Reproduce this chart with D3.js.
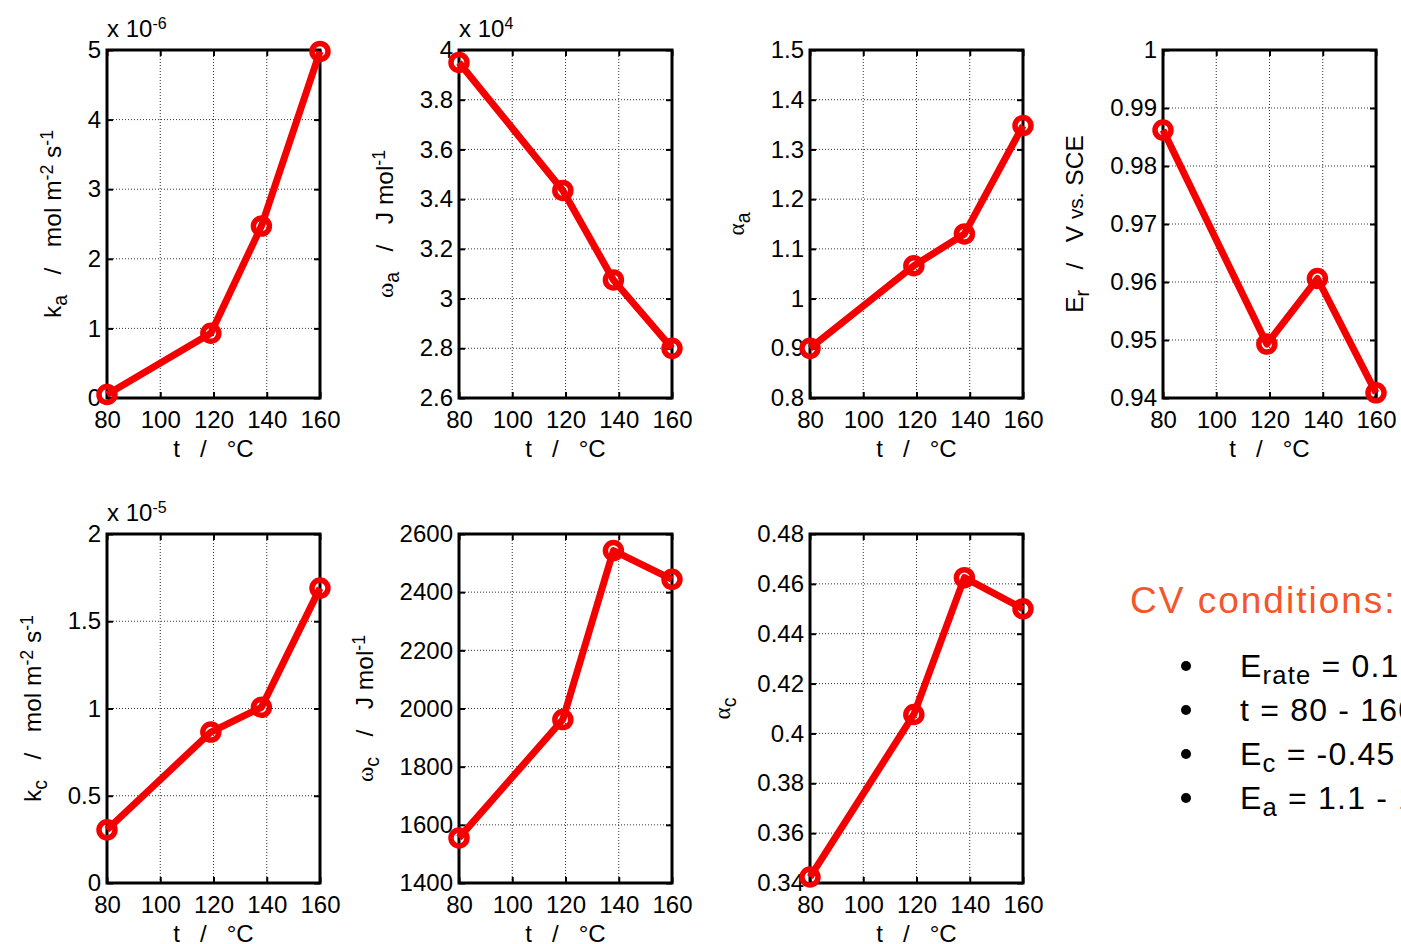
<!DOCTYPE html>
<html>
<head>
<meta charset="utf-8">
<script src="https://cdn.jsdelivr.net/npm/d3@7"></script>
<style>
  html, body { margin: 0; padding: 0; background: #fff; overflow: hidden; }
  svg { display: block; }
  text { font-family: "Liberation Sans", Arial, sans-serif; fill: #000; }
</style>
</head>
<body>
<svg id="chart" width="1401" height="944"></svg>
<script>
// ---------- data ----------
const temps = [80, 119, 138, 160];            // t / °C
const xTicks = [80, 100, 120, 140, 160];

const ka = [0.05, 0.93, 2.47, 4.98];          // x 10^-6 mol m^-2 s^-1
const kaTicks = [0, 1, 2, 3, 4, 5];

const omegaA = [3.95, 3.435, 3.075, 2.80];    // x 10^4 J mol^-1
const omegaATicks = [2.6, 2.8, 3, 3.2, 3.4, 3.6, 3.8, 4];

const alphaA = [0.90, 1.066, 1.13, 1.348];
const alphaATicks = [0.8, 0.9, 1, 1.1, 1.2, 1.3, 1.4, 1.5];

const Er = [0.9862, 0.9493, 0.9606, 0.9409];  // V vs. SCE
const ErTicks = [0.94, 0.95, 0.96, 0.97, 0.98, 0.99, 1];

const kc = [0.305, 0.865, 1.007, 1.69];       // x 10^-5 mol m^-2 s^-1
const kcTicks = [0, 0.5, 1, 1.5, 2];

const omegaC = [1555, 1962, 2543, 2444];      // J mol^-1
const omegaCTicks = [1400, 1600, 1800, 2000, 2200, 2400, 2600];

const alphaC = [0.3424, 0.4076, 0.4625, 0.450];
const alphaCTicks = [0.34, 0.36, 0.38, 0.40, 0.42, 0.44, 0.46, 0.48];

const cvTitle = "CV conditions:";
const cvItems = [
  [["E", ""], ["rate", "sub"], [" = 0.1 V s", ""], ["-1", "sup"]],
  [["t = 80 - 160 °C", ""]],
  [["E", ""], ["c", "sub"], [" = -0.45 V", ""]],
  [["E", ""], ["a", "sub"], [" = 1.1 - 1.3 V", ""]]
];

// ---------- layout ----------
const W = 213;
const rows = [{ top: 50, h: 348 }, { top: 534, h: 349 }];
const cols = [107, 459, 810, 1163];

const panels = [
  { v: ka, ticks: kaTicks, exp: "-6", row: 0, col: 0,
    label: [["k", ""], ["a", "sub"], ["   /   mol m", ""], ["-2", "sup"], [" s", ""], ["-1", "sup"]] },
  { v: omegaA, ticks: omegaATicks, exp: "4", row: 0, col: 1,
    label: [["ω", "greek"], ["a", "sub"], ["   /   J mol", ""], ["-1", "sup"]] },
  { v: alphaA, ticks: alphaATicks, exp: null, row: 0, col: 2,
    label: [["α", "greek"], ["a", "sub"]] },
  { v: Er, ticks: ErTicks, exp: null, row: 0, col: 3,
    label: [["E", ""], ["r", "sub"], ["   /   V ", ""], ["vs.", "small"], [" SCE", ""]] },
  { v: kc, ticks: kcTicks, exp: "-5", row: 1, col: 0,
    label: [["k", ""], ["c", "sub"], ["   /   mol m", ""], ["-2", "sup"], [" s", ""], ["-1", "sup"]] },
  { v: omegaC, ticks: omegaCTicks, exp: null, row: 1, col: 1,
    label: [["ω", "greek"], ["c", "sub"], ["   /   J mol", ""], ["-1", "sup"]] },
  { v: alphaC, ticks: alphaCTicks, exp: null, row: 1, col: 2,
    label: [["α", "greek"], ["c", "sub"]] }
];

const svg = d3.select("#chart");
const fmt = d => String(+(+d).toFixed(6));
const RED = "#f50000";
const FS = 24;

function addParts(textSel, parts, base) {
  parts.forEach(([s, kind]) => {
    const t = textSel.append("tspan").text(s).style("white-space", "pre");
    if (kind === "sub") t.attr("font-size", base * 0.8).attr("baseline-shift", "-28%");
    else if (kind === "sup") t.attr("font-size", base * 0.72).attr("baseline-shift", "45%");
    else if (kind === "greek") t.attr("font-size", base * 0.95).attr("font-family", "Liberation Serif, serif");
    else if (kind === "small") t.attr("font-size", base * 0.85);
  });
}

panels.forEach(p => {
  const left = cols[p.col], top = rows[p.row].top, H = rows[p.row].h;
  const g = svg.append("g").attr("transform", `translate(${left},${top})`);
  const x = d3.scaleLinear().domain([xTicks[0], xTicks[xTicks.length - 1]]).range([0, W]);
  const y = d3.scaleLinear().domain([p.ticks[0], p.ticks[p.ticks.length - 1]]).range([H, 0]);

  // grid
  g.append("g").selectAll("line").data(xTicks.slice(1, -1)).join("line")
    .attr("x1", d => x(d)).attr("x2", d => x(d)).attr("y1", 0).attr("y2", H)
    .attr("stroke", "#333").attr("stroke-width", 1).attr("stroke-dasharray", "1,2");
  g.append("g").selectAll("line").data(p.ticks.slice(1, -1)).join("line")
    .attr("y1", d => y(d)).attr("y2", d => y(d)).attr("x1", 0).attr("x2", W)
    .attr("stroke", "#333").attr("stroke-width", 1).attr("stroke-dasharray", "1,2");

  // axes (inward ticks)
  const ax = g.append("g").attr("transform", `translate(0,${H})`)
    .call(d3.axisBottom(x).tickValues(xTicks).tickSizeInner(-6).tickSizeOuter(0).tickPadding(13).tickFormat(fmt));
  const ay = g.append("g")
    .call(d3.axisLeft(y).tickValues(p.ticks).tickSizeInner(-6).tickSizeOuter(0).tickPadding(6).tickFormat(fmt));
  g.append("g").attr("transform", `translate(${W},0)`)
    .call(d3.axisRight(y).tickValues(p.ticks).tickSizeInner(-6).tickSizeOuter(0).tickFormat(""));
  g.append("g")
    .call(d3.axisTop(x).tickValues(xTicks).tickSizeInner(-6).tickSizeOuter(0).tickFormat(""));
  g.selectAll(".domain").remove();
  g.selectAll(".tick line").attr("stroke", "#000").attr("stroke-width", 2);
  [ax, ay].forEach(a => a.selectAll("text")
    .attr("font-size", FS).attr("font-family", "Liberation Sans, Arial, sans-serif").attr("fill", "#000"));
  ax.selectAll("text").attr("dy", "0.71em");

  // box
  g.append("rect").attr("x", 0).attr("y", 0).attr("width", W).attr("height", H)
    .attr("fill", "none").attr("stroke", "#000").attr("stroke-width", 3);

  // data line + markers
  const pts = temps.map((t, i) => [t, p.v[i]]);
  g.append("path").datum(pts)
    .attr("d", d3.line().x(d => x(d[0])).y(d => y(d[1])))
    .attr("fill", "none").attr("stroke", RED).attr("stroke-width", 7)
    .attr("stroke-linejoin", "round");
  g.append("g").selectAll("circle").data(pts).join("circle")
    .attr("cx", d => x(d[0])).attr("cy", d => y(d[1])).attr("r", 8)
    .attr("fill", "none").attr("stroke", RED).attr("stroke-width", 5.5);

  // x label
  g.append("text").attr("x", W / 2).attr("y", H + 59).attr("text-anchor", "middle")
    .attr("font-size", FS).style("white-space", "pre").text("t   /   °C");

  // exponent label
  if (p.exp) {
    const e = g.append("text").attr("x", 0).attr("y", -13).attr("font-size", FS);
    e.append("tspan").text("x 10");
    e.append("tspan").text(p.exp).attr("font-size", 16).attr("baseline-shift", "50%");
  }

  // y label placed left of tick labels
  let minX = 0;
  ay.selectAll("text").each(function () {
    const b = this.getBBox();
    minX = Math.min(minX, b.x - 6);
  });
  const lx = minX - 21;
  const yl = g.append("text")
    .attr("transform", `translate(${lx},${H / 2}) rotate(-90)`)
    .attr("text-anchor", "middle").attr("font-size", 24.5);
  addParts(yl, p.label, 24.5);
});

// CV conditions text block
const cv = svg.append("g");
cv.append("text").attr("x", 1130).attr("y", 613)
  .attr("font-family", "Lato, 'Open Sans', sans-serif").attr("font-size", 37)
  .attr("font-weight", 300).attr("letter-spacing", 2)
  .style("fill", "#f4562a").text(cvTitle);
const baseY = [677, 721, 765, 809];
cvItems.forEach((parts, i) => {
  cv.append("circle").attr("cx", 1186).attr("cy", baseY[i] - 11).attr("r", 5).attr("fill", "#000");
  const t = cv.append("text").attr("x", 1240).attr("y", baseY[i])
    .attr("font-family", "Lato, 'Open Sans', sans-serif").attr("font-size", 32)
    .attr("font-weight", 300).attr("letter-spacing", 1.2);
  addParts(t, parts, 32);
});
</script>
</body>
</html>
